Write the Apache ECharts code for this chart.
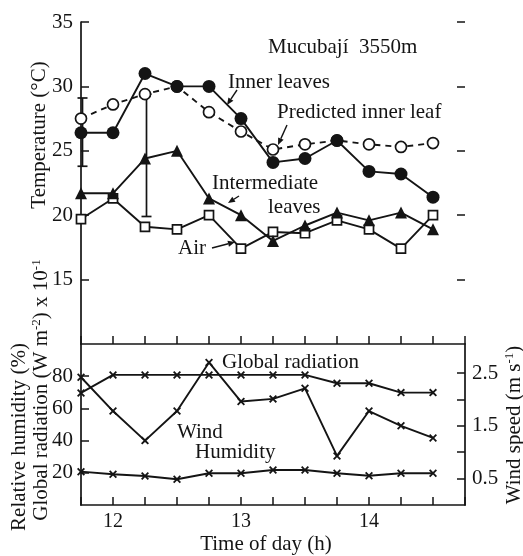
<!DOCTYPE html>
<html>
<head>
<meta charset="utf-8">
<script src="https://cdn.jsdelivr.net/npm/echarts@6/dist/echarts.min.js"></script>
<style>
  html, body { margin: 0; padding: 0; background: #fff; }
  #chart { width: 523px; height: 556px; }
</style>
</head>
<body>
<div id="chart"></div>
<script>
// time of day (h)
const times = [11.75, 12, 12.25, 12.5, 12.75, 13, 13.25, 13.5, 13.75, 14, 14.25, 14.5]

// temperature (°C)
const innerLeaves = [26.4, 26.4, 31.0, 30.0, 30.0, 27.5, 24.1, 24.4, 25.8, 23.4, 23.2, 21.4]
const predictedInner = [27.5, 28.6, 29.4, 30.0, 28.0, 26.5, 25.1, 25.5, 25.8, 25.5, 25.3, 25.6]
const intermediate = [21.7, 21.7, 24.4, 25.0, 21.3, 20.0, 18.0, 19.2, 20.2, 19.6, 20.2, 18.9]
const air = [19.7, 21.3, 19.1, 18.9, 20.0, 17.4, 18.7, 18.6, 19.6, 18.9, 17.4, 20.0]

// error bars
const errTimes = [11.75, 12.25]
const errHigh = [29.1, 29.4]
const errLow = [23.8, 19.9]

// lower panel
const globalRad = [69.6, 80.8, 80.8, 80.8, 80.8, 80.8, 80.8, 80.8, 75.6, 75.6, 69.8, 69.8]
const humidity = [20.7, 19.1, 18.0, 16.0, 19.7, 19.7, 21.7, 21.7, 19.7, 18.2, 19.7, 19.7]
const wind = [2.42, 1.78, 1.22, 1.78, 2.70, 1.96, 2.01, 2.21, 0.93, 1.78, 1.50, 1.27]

const tempTicks = [15, 20, 25, 30, 35]
const lowTicks = [20, 40, 60, 80]
const windTicks = [0.5, 1, 1.5, 2, 2.5]
const windLabels = [0.5, 1.5, 2.5]

const FONT = 'Liberation Serif'
const INK = '#141414'
const pairs = (ys) => times.map((t, i) => [t, ys[i]])
// small bold "x" marker
const crossSym = 'path://M0,1.6L1.6,0L5,3.4L8.4,0L10,1.6L6.6,5L10,8.4L8.4,10L5,6.6L1.6,10L0,8.4L3.4,5Z'

const chart = echarts.init(document.getElementById('chart'), null, { renderer: 'canvas' })

function arrow(x1, y1, x2, y2) {
  const a = Math.atan2(y2 - y1, x2 - x1)
  const L = 7, W = 3
  const bx = x2 - L * Math.cos(a), by = y2 - L * Math.sin(a)
  return {
    type: 'group',
    children: [
      { type: 'line', shape: { x1, y1, x2: bx, y2: by }, style: { stroke: INK, lineWidth: 1.4 } },
      {
        type: 'polygon',
        shape: { points: [[x2, y2], [bx + W * Math.sin(a), by - W * Math.cos(a)], [bx - W * Math.sin(a), by + W * Math.cos(a)]] },
        style: { fill: INK },
      },
    ],
  }
}

function label(text, x, y, size, extra) {
  return {
    type: 'text', x, y,
    style: Object.assign({ text, fill: INK, font: `${size}px "${FONT}"`, textAlign: 'left', textVerticalAlign: 'middle' }, extra || {}),
  }
}

function vlabel(x, y, rich, str) {
  return {
    type: 'text', x, y, rotation: Math.PI / 2,
    style: {
      text: str, rich, fill: INK, font: `21px "${FONT}"`,
      textAlign: 'center', textVerticalAlign: 'middle',
    },
  }
}

const sup = { fontSize: 13, fontFamily: FONT, verticalAlign: 'top', lineHeight: 21, fill: INK }
const nrm = { fontSize: 21, fontFamily: FONT, lineHeight: 21, fill: INK }

const lineBase = (name, data, sym, size, fill, extra) => Object.assign({
  name, type: 'line', data: pairs(data), xAxisIndex: 0, yAxisIndex: 0,
  symbol: sym, symbolSize: size, showAllSymbol: true,
  lineStyle: { color: INK, width: 1.9 },
  itemStyle: { color: fill, borderColor: INK, borderWidth: fill === '#fff' ? 1.7 : 0 },
  z: 3,
}, extra || {})

const lowLine = (name, data, axis) => ({
  name, type: 'line', xAxisIndex: 1, yAxisIndex: axis,
  data: pairs(data), symbol: crossSym, symbolSize: 8, showAllSymbol: true,
  lineStyle: { color: INK, width: 1.9 }, itemStyle: { color: INK },
})

const xCommon = {
  type: 'value', min: 11.75, max: 14.75, interval: 0.25,
  axisLine: { show: true, onZero: false, lineStyle: { color: INK, width: 1.7 } },
  axisTick: { show: true, inside: true, length: 8, lineStyle: { color: INK, width: 1.5 } },
  splitLine: { show: false },
}

chart.setOption({
  animation: false,
  backgroundColor: '#fff',
  grid: [
    { left: 81, right: 58, top: 22, height: 322 },
    { left: 81, right: 58, top: 344, height: 161 },
  ],
  xAxis: [
    Object.assign({}, xCommon, { gridIndex: 0, axisLabel: { show: false } }),
    Object.assign({}, xCommon, {
      gridIndex: 1,
      axisLabel: {
        margin: 7, color: INK, fontFamily: FONT, fontSize: 20,
        formatter: (v) => Number.isInteger(v) ? String(v) : '',
      },
    }),
  ],
  yAxis: [
    {
      gridIndex: 0, type: 'value', min: 10, max: 35, position: 'left',
      axisLine: { show: true, lineStyle: { color: INK, width: 1.7 } },
      axisTick: { show: true, inside: true, length: 8, customValues: tempTicks, lineStyle: { color: INK, width: 1.5 } },
      axisLabel: { margin: 8, color: INK, fontFamily: FONT, fontSize: 21, customValues: tempTicks },
      splitLine: { show: false },
    },
    {
      gridIndex: 0, type: 'value', min: 10, max: 35, position: 'right',
      axisLine: { show: false },
      axisTick: { show: true, inside: true, length: 8, customValues: tempTicks, lineStyle: { color: INK, width: 1.5 } },
      axisLabel: { show: false },
      splitLine: { show: false },
    },
    {
      gridIndex: 1, type: 'value', min: 0, max: 100, position: 'left',
      axisLine: { show: true, lineStyle: { color: INK, width: 1.7 } },
      axisTick: { show: true, inside: true, length: 8, customValues: lowTicks, lineStyle: { color: INK, width: 1.5 } },
      axisLabel: { margin: 8, color: INK, fontFamily: FONT, fontSize: 21, customValues: lowTicks },
      splitLine: { show: false },
    },
    {
      gridIndex: 1, type: 'value', min: 0, max: 3.05, position: 'right',
      axisLine: { show: true, lineStyle: { color: INK, width: 1.7 } },
      axisTick: { show: true, inside: true, length: 8, customValues: windTicks, lineStyle: { color: INK, width: 1.5 } },
      axisLabel: { margin: 7, color: INK, fontFamily: FONT, fontSize: 21, customValues: windLabels },
      splitLine: { show: false },
    },
  ],
  series: [
    {
      name: 'err', type: 'custom', xAxisIndex: 0, yAxisIndex: 0, z: 2,
      data: errTimes.map((t, i) => [t, errHigh[i], errLow[i]]),
      renderItem(params, api) {
        const hi = api.coord([api.value(0), api.value(1)])
        const lo = api.coord([api.value(0), api.value(2)])
        const st = { stroke: INK, lineWidth: 1.7 }
        return {
          type: 'group',
          children: [
            { type: 'line', shape: { x1: hi[0] + 1.5, y1: hi[1], x2: lo[0] + 1.5, y2: lo[1] }, style: st },
            { type: 'line', shape: { x1: hi[0] - 3.5, y1: hi[1], x2: hi[0] + 6.5, y2: hi[1] }, style: st },
            { type: 'line', shape: { x1: lo[0] - 3.5, y1: lo[1], x2: lo[0] + 6.5, y2: lo[1] }, style: st },
          ],
        }
      },
    },
    lineBase('Air', air, 'rect', 9, '#fff'),
    lineBase('Intermediate leaves', intermediate, 'triangle', 12, INK),
    lineBase('Predicted inner leaf', predictedInner, 'circle', 11, '#fff', {
      lineStyle: { color: INK, width: 1.9, type: [6, 5] },
    }),
    lineBase('Inner leaves', innerLeaves, 'circle', 13, INK),
    lowLine('Global radiation', globalRad, 2),
    lowLine('Humidity', humidity, 2),
    lowLine('Wind', wind, 3),
  ],
  graphic: [
    label('Mucubají  3550m', 268, 47, 21),
    label('Inner leaves', 228, 82, 21),
    label('Predicted inner leaf', 277, 112, 21),
    label('Intermediate', 212, 183, 21),
    label('leaves', 268, 207, 21),
    label('Air', 178, 248, 21),
    label('Global radiation', 222, 362, 21),
    label('Wind', 177, 432, 21),
    label('Humidity', 195, 452, 21),
    arrow(237, 90, 227, 105),
    arrow(287, 125, 278, 145),
    arrow(239, 196, 228, 203),
    arrow(212, 248, 235, 242),
    vlabel(39, 135, { n: nrm }, '{n|Temperature (°C)}'),
    vlabel(19, 437, { n: nrm }, '{n|Relative humidity (%)}'),
    vlabel(41, 390, { n: nrm, s: sup }, '{n|Global radiation (W m}{s|-2}{n|) x 10}{s|-1}'),
    vlabel(514, 425, { n: nrm, s: sup }, '{n|Wind speed (m s}{s|-1}{n|)}'),
    label('Time of day (h)', 266, 544, 21, { textAlign: 'center' }),
  ],
})
</script>
</body>
</html>
